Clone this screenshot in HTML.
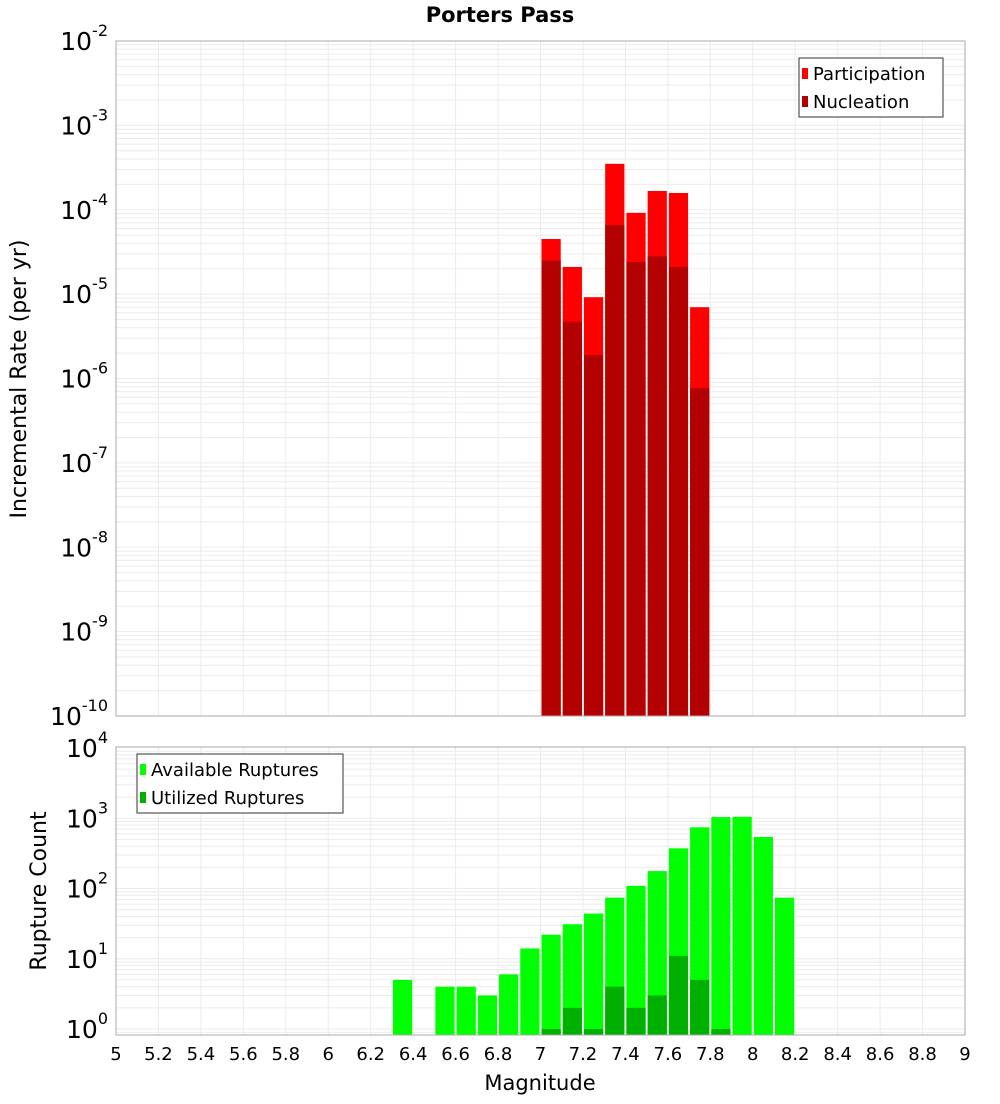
<!DOCTYPE html>
<html><head><meta charset="utf-8"><style>
body{margin:0;background:#fff;font-family:"DejaVu Sans","Liberation Sans",sans-serif}
svg text{font-family:"DejaVu Sans","Liberation Sans",sans-serif}
</style></head><body>
<svg id="c" width="1000" height="1100" xmlns="http://www.w3.org/2000/svg"></svg>
<script>
const mags=[7.05,7.15,7.25,7.35,7.45,7.55,7.65,7.75];
const participation=[4.5e-5,2.1e-5,9.2e-6,3.5e-4,9.2e-5,1.67e-4,1.58e-4,7.0e-6];
const nucleation=[2.5e-5,4.7e-6,1.9e-6,6.6e-5,2.4e-5,2.8e-5,2.1e-5,7.7e-7];
const countMags=[6.35,6.55,6.65,6.75,6.85,6.95,7.05,7.15,7.25,7.35,7.45,7.55,7.65,7.75,7.85,7.95,8.05,8.15];
const available=[5,4,4,3,6,14,22,31,44,74,109,177,373,743,1040,1050,541,74];
const utilized=[0,0,0,0,0,0,1,2,1,4,2,3,11,5,1,0,0,0];
const xTicks=["5","5.2","5.4","5.6","5.8","6","6.2","6.4","6.6","6.8","7","7.2","7.4","7.6","7.8","8","8.2","8.4","8.6","8.8","9"];
const topExp=[-2,-3,-4,-5,-6,-7,-8,-9,-10];
const botExp=[4,3,2,1,0];

const svg=document.getElementById('c');
const NS='http://www.w3.org/2000/svg';
function mk(tag,at,parent){const e=document.createElementNS(NS,tag);for(const k in at)e.setAttribute(k,at[k]);(parent||svg).appendChild(e);return e;}
const X0=116,X1=965;
const x=m=>X0+(m-5)/4*(X1-X0);
const T0=41,T1=716;
const yTop=v=>T1-(Math.log10(v)+10)/8*(T1-T0);
const B0=747,B1=1035,BZ=1029,BD=70.25;
const yBot=v=>Math.min(B1,BZ-Math.log10(v)*BD);

function grid(y0,y1,yf,lo,hi){
  for(let e=lo;e<hi;e++){for(let k=1;k<10;k++){const yy=yf(k*Math.pow(10,e));if(yy<y0-0.5||yy>y1+0.5)continue;
    const l=mk('line',{x1:X0,x2:X1,y1:yy,y2:yy,stroke:'#ebebeb','stroke-width':1});
    }}
  for(let i=1;i<20;i++){const xx=x(5+i*0.2);
    const l=mk('line',{x1:xx,x2:xx,y1:y0,y2:y1,stroke:'#ebebeb','stroke-width':1});
    }
}
grid(T0,T1,yTop,-10,-1);
grid(B0,B1,yBot,-1,4);

function bar(m,v,yf,fill,name){
  const yy=yf(v);const bottom=(yf===yTop)?T1:B1;
  const r=mk('rect',{x:x(m-0.05)+1,y:yy,width:x(m+0.05)-x(m-0.05)-2,height:bottom-yy,fill:fill});
  
}
mags.forEach((m,i)=>bar(m,participation[i],yTop,'#ff0000','participation-bar'));
mags.forEach((m,i)=>bar(m,nucleation[i],yTop,'#b30000','nucleation-bar'));
countMags.forEach((m,i)=>{if(available[i]>0)bar(m,available[i],yBot,'#00ff00','available-bar');});
countMags.forEach((m,i)=>{if(utilized[i]>0)bar(m,utilized[i],yBot,'#00b000','utilized-bar');});

const f1=mk('rect',{x:X0,y:T0,width:X1-X0,height:T1-T0,fill:'none',stroke:'#aaa'});

const f2=mk('rect',{x:X0,y:B0,width:X1-X0,height:B1-B0,fill:'none',stroke:'#aaa'});


function ylab(exp,yy,name){
  const t=mk('text',{x:108,y:yy+9,'text-anchor':'end','font-size':25,fill:'#000'});
  
  t.textContent='10';
  const s=mk('tspan',{dy:-14,'font-size':16},t);s.textContent=String(exp);
}
topExp.forEach(e=>ylab(e,yTop(Math.pow(10,e)),'y-tick-label'));
botExp.forEach(e=>ylab(e,BZ-e*BD,'count-tick-label'));
// shift 10^-2 offsets for first/last handled by layout
xTicks.forEach(s=>{const t=mk('text',{x:x(parseFloat(s)),y:1060,'text-anchor':'middle','font-size':18,fill:'#000'});
  t.textContent=s;});

let t=mk('text',{x:540,y:1090,'text-anchor':'middle','font-size':21});t.textContent='Magnitude';

t=mk('text',{x:500,y:22,'text-anchor':'middle','font-size':21,'font-weight':'bold'});t.textContent='Porters Pass';

t=mk('text',{x:0,y:0,'text-anchor':'middle','font-size':22,transform:'translate(26,379) rotate(-90)'});t.textContent='Incremental Rate (per yr)';

t=mk('text',{x:0,y:0,'text-anchor':'middle','font-size':22,transform:'translate(46,891) rotate(-90)'});t.textContent='Rupture Count';


function legend(bx,by,bw,bh,items,name){
  const g=mk('g',{});
  mk('rect',{x:bx,y:by,width:bw,height:bh,fill:'#fff',stroke:'#333'},g);
  items.forEach((it,i)=>{const cy=by+15+i*28;
    mk('rect',{x:bx+3,y:cy-5,width:6,height:11,fill:it[1]},g);
    const tt=mk('text',{x:bx+14,y:cy+7,'font-size':18},g);tt.textContent=it[0];
    });
}
legend(799,58,144,59,[['Participation','#ff0000'],['Nucleation','#b30000']],'rate-legend');
legend(137,754,206,59,[['Available Ruptures','#00ff00'],['Utilized Ruptures','#00b000']],'count-legend');
</script>
</body></html>
